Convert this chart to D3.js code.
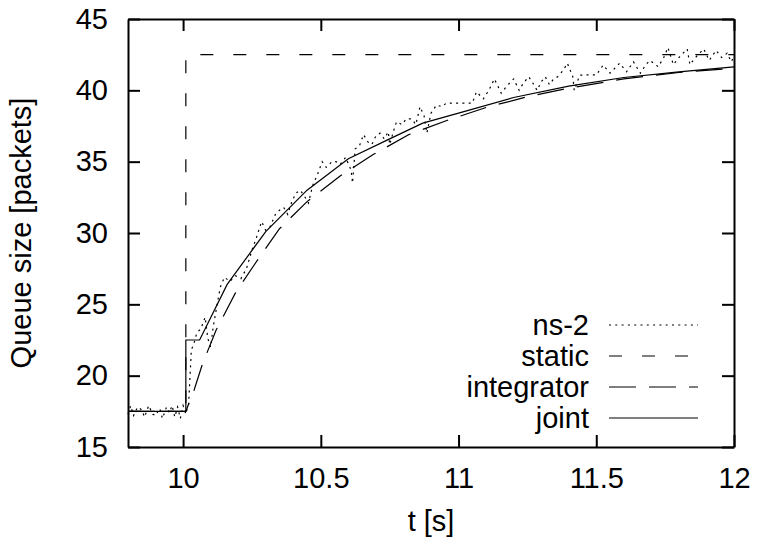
<meta charset="utf-8">
<style>
body { margin: 0; background: #fff; }
.line { fill: none; stroke: #000; stroke-width: 1.2px; }
.axis path, .axis line { stroke: #000; stroke-width: 2px; }
.axis text, .label, .legend text { fill: #000; font: 29px "Liberation Sans", Arial, sans-serif; }
</style>
<body>
<script src="https://d3js.org/d3.v7.min.js"></script>
<script>
// tick values
var xTicks = [10, 10.5, 11, 11.5, 12];
var yTicks = [15, 20, 25, 30, 35, 40, 45];

// ns-2 simulation trace
var ns2T = [9.80, 9.81, 9.82, 9.835, 9.85, 9.86, 9.875, 9.89, 9.90, 9.915, 9.925, 9.94, 9.95, 9.96, 9.97, 9.98, 9.99, 10.00, 10.01, 10.015,
  10.02, 10.03, 10.04, 10.05, 10.065, 10.08, 10.09, 10.10, 10.11, 10.12, 10.135, 10.15, 10.17, 10.19, 10.21, 10.23, 10.25, 10.265, 10.285, 10.30,
  10.315, 10.335, 10.35, 10.365, 10.38, 10.395, 10.41, 10.425, 10.44, 10.455, 10.47, 10.49, 10.505, 10.52, 10.54, 10.555, 10.57, 10.59, 10.61, 10.615,
  10.625, 10.64, 10.655, 10.67, 10.685, 10.70, 10.715, 10.73, 10.745, 10.75, 10.765, 10.775, 10.795, 10.81, 10.83, 10.845, 10.86, 10.875, 10.885, 10.90,
  10.92, 10.94, 10.955, 10.98, 11.00, 11.03, 11.05, 11.065, 11.09, 11.11, 11.13, 11.155, 11.175, 11.20, 11.22, 11.235, 11.255, 11.27, 11.285, 11.30,
  11.315, 11.33, 11.345, 11.36, 11.38, 11.395, 11.415, 11.42, 11.44, 11.46, 11.48, 11.50, 11.525, 11.55, 11.57, 11.585, 11.61, 11.635, 11.66, 11.68,
  11.695, 11.725, 11.745, 11.76, 11.78, 11.80, 11.83, 11.84, 11.86, 11.89, 11.91, 11.935, 11.955, 11.975, 11.99, 12.00];
var ns2Q = [17.3, 17.9, 17.2, 17.8, 17.6, 17.1, 17.9, 17.3, 17.2, 17.7, 17.0, 17.8, 17.4, 17.9, 17.1, 17.8, 17.0, 17.9, 17.3, 17.7,
  18.0, 21.8, 22.3, 23.0, 23.3, 24.1, 22.6, 22.0, 23.5, 24.6, 26.2, 26.9, 26.6, 27.0, 26.8, 27.5, 28.8, 29.6, 30.8, 30.2,
  30.4, 31.3, 31.6, 31.8, 31.3, 32.2, 32.8, 33.0, 32.6, 32.1, 33.3, 34.2, 35.0, 34.6, 35.0, 35.0, 34.8, 35.3, 34.4, 33.5,
  35.9, 36.1, 36.9, 36.4, 36.2, 36.8, 37.0, 36.6, 37.1, 36.2, 37.2, 37.8, 37.6, 38.0, 38.0, 37.6, 38.85, 38.2, 37.0, 38.4,
  38.97, 38.85, 39.1, 39.1, 39.1, 39.1, 39.1, 39.9, 39.4, 40.0, 40.8, 39.8, 40.3, 40.8, 40.0, 40.5, 40.95, 40.5, 40.0, 40.6,
  40.95, 40.4, 40.8, 40.95, 41.4, 41.9, 40.95, 40.0, 41.07, 41.07, 41.1, 41.07, 41.77, 41.2, 41.6, 41.9, 41.3, 42.0, 41.2, 41.8,
  42.1, 41.65, 42.3, 43.0, 41.8, 42.3, 42.9, 41.8, 42.3, 42.9, 42.1, 42.8, 42.3, 42.6, 42.0, 42.4];

// static model
var staticT = [9.8, 10.01, 10.01, 12];
var staticQ = [17.5, 17.5, 42.5, 42.5];

// integrator model
var integT = [9.8, 10.01, 10.04, 10.07, 10.12, 10.19, 10.27, 10.35, 10.45, 10.57, 10.69, 10.82, 10.96, 11.1, 11.25, 11.4, 11.6, 11.8, 12.0];
var integQ = [17.5, 17.5, 19.0, 20.8, 23.2, 25.8, 28.1, 30.3, 32.2, 34.0, 35.5, 36.9, 37.9, 38.8, 39.55, 40.15, 40.8, 41.25, 41.55];

// joint model
var jointT = [9.8, 10.01, 10.01, 10.06, 10.16, 10.3, 10.45, 10.6, 10.75, 10.87, 11.0, 11.2, 11.4, 11.6, 11.8, 12.0];
var jointQ = [17.5, 17.5, 22.5, 22.5, 26.4, 30.1, 33.0, 35.2, 36.6, 37.7, 38.4, 39.5, 40.3, 40.9, 41.3, 41.65];

var seriesNames = ["ns-2", "static", "integrator", "joint"];
var dashes = ["2,4.3", "13,20", "27,13", null];

var pLeft = 128, pRight = 734, pTop = 19, pBottom = 447;

var x = d3.scaleLinear().domain([9.8, 12]).range([pLeft, pRight]);
var y = d3.scaleLinear().domain([15, 45]).range([pBottom, pTop]);

var svg = d3.select("body").append("svg")
    .attr("width", 760)
    .attr("height", 545);

var series = [[ns2T, ns2Q], [staticT, staticQ], [integT, integQ], [jointT, jointQ]];

var line = d3.line()
    .x(function(d) { return x(d[0]); })
    .y(function(d) { return y(d[1]); });

series.forEach(function(s, i) {
  var pts = s[0].map(function(t, j) { return [t, s[1][j]]; });
  svg.append("path")
      .attr("class", "line")
      .attr("d", line(pts))
      .style("stroke-dasharray", dashes[i]);
});

// axes, ticks pointing inwards on all four sides
svg.append("g")
    .attr("class", "axis")
    .attr("transform", "translate(0," + pBottom + ")")
    .call(d3.axisBottom(x).tickValues(xTicks).tickFormat(d3.format("")).tickSizeInner(-12).tickSizeOuter(0).tickPadding(20));
svg.append("g")
    .attr("class", "axis")
    .attr("transform", "translate(0," + pTop + ")")
    .call(d3.axisTop(x).tickValues(xTicks).tickFormat("").tickSizeInner(-12).tickSizeOuter(0));
svg.append("g")
    .attr("class", "axis")
    .attr("transform", "translate(" + pLeft + ",0)")
    .call(d3.axisLeft(y).tickValues(yTicks).tickSizeInner(-12).tickSizeOuter(0).tickPadding(20));
svg.append("g")
    .attr("class", "axis")
    .attr("transform", "translate(" + pRight + ",0)")
    .call(d3.axisRight(y).tickValues(yTicks).tickFormat("").tickSizeInner(-12).tickSizeOuter(0));

svg.selectAll(".axis").attr("font-family", null).attr("font-size", null);

// axis titles
svg.append("text")
    .attr("class", "label")
    .attr("x", (pLeft + pRight) / 2)
    .attr("y", 531)
    .attr("text-anchor", "middle")
    .text("t [s]");
svg.append("text")
    .attr("class", "label")
    .attr("transform", "translate(31," + (pTop + pBottom) / 2 + ") rotate(-90)")
    .attr("text-anchor", "middle")
    .text("Queue size [packets]");

// legend
var legend = svg.append("g").attr("class", "legend");
seriesNames.forEach(function(name, i) {
  var ly = 325 + i * 31;
  legend.append("text")
      .attr("x", 589)
      .attr("y", ly)
      .attr("dy", "0.36em")
      .attr("text-anchor", "end")
      .text(name);
  legend.append("line")
      .attr("x1", 609)
      .attr("x2", 698)
      .attr("y1", ly)
      .attr("y2", ly)
      .attr("stroke", "#000")
      .attr("stroke-width", 1.2)
      .style("stroke-dasharray", dashes[i]);
});
</script>
</body>
